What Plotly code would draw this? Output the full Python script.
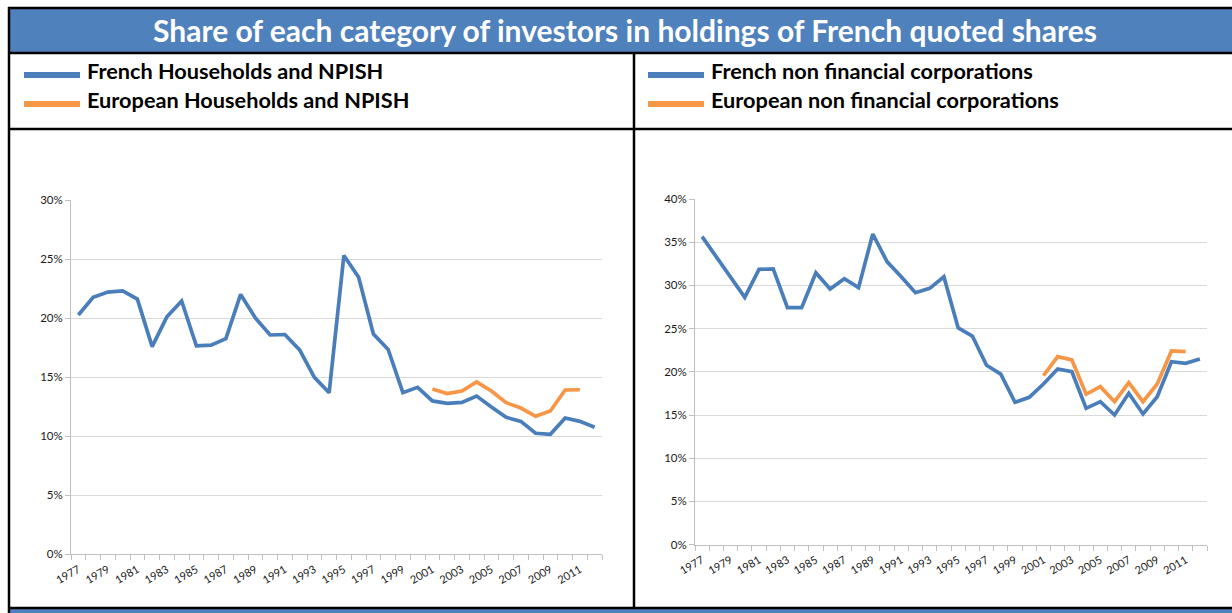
import plotly.graph_objects as go

years = list(range(1977, 2013))
years_eu = list(range(2001, 2012))

fr_households = [20.25, 21.75, 22.2, 22.3, 21.6, 17.57, 20.1, 21.44, 17.65, 17.7,
                 18.25, 22.0, 20.0, 18.56, 18.6, 17.3, 14.97, 13.67, 25.3, 23.45,
                 18.64, 17.34, 13.67, 14.12, 12.97, 12.77, 12.85, 13.39, 12.46, 11.58,
                 11.24, 10.23, 10.14, 11.53, 11.24, 10.74]
eu_households = [13.98, 13.59, 13.81, 14.58, 13.81, 12.82, 12.37, 11.67, 12.12, 13.9, 13.92]

fr_nfc = [35.64, 33.3, 31.0, 28.62, 31.86, 31.9, 27.42, 27.42, 31.47, 29.58,
          30.78, 29.74, 35.95, 32.75, 31.0, 29.16, 29.66, 31.0, 25.1, 24.14,
          20.75, 19.74, 16.47, 17.05, 18.59, 20.32, 20.01, 15.77, 16.54, 15.0,
          17.51, 15.12, 17.12, 21.17, 20.98, 21.48]
eu_nfc = [19.55, 21.75, 21.37, 17.4, 18.28, 16.54, 18.74, 16.54, 18.59, 22.41, 22.33]

title = "Share of each category of investors in holdings of French quoted shares"
legend_left = ["French Households and NPISH", "European Households and NPISH"]
legend_right = ["French non financial corporations", "European non financial corporations"]
year_labels = [str(y) for y in range(1977, 2012, 2)]

BLUE = "#4A7EBB"
ORANGE = "#F79646"
BAR = "#4F81BD"
W, H = 1232, 613

def px(x):
    return x / W

def py(y):
    return 1 - y / H

fig = go.Figure()
fig.add_trace(go.Scatter(x=years, y=[v / 100 for v in fr_households], mode="lines",
                         line=dict(color=BLUE, width=3.7), xaxis="x", yaxis="y",
                         name=legend_left[0], showlegend=False))
fig.add_trace(go.Scatter(x=years_eu, y=[v / 100 for v in eu_households], mode="lines",
                         line=dict(color=ORANGE, width=3.7), xaxis="x", yaxis="y",
                         name=legend_left[1], showlegend=False))
fig.add_trace(go.Scatter(x=years, y=[v / 100 for v in fr_nfc], mode="lines",
                         line=dict(color=BLUE, width=3.7), xaxis="x2", yaxis="y2",
                         name=legend_right[0], showlegend=False))
fig.add_trace(go.Scatter(x=years_eu, y=[v / 100 for v in eu_nfc], mode="lines",
                         line=dict(color=ORANGE, width=3.7), xaxis="x2", yaxis="y2",
                         name=legend_right[1], showlegend=False))

xtickfont = dict(family="Lato, Open Sans, sans-serif", size=11, color="#1a1a1a")
ytickfont = dict(family="Lato, Open Sans, sans-serif", size=11.5, color="#1a1a1a")
GRID = "#D9D9D9"
AXIS = "#BFBFBF"

def xaxis(domain, anchor):
    return dict(domain=domain, anchor=anchor, range=[1976.5, 2012.5], automargin=False,
                tickmode="array", tickvals=list(range(1977, 2012, 2)), ticktext=year_labels,
                tickangle=-30, tickfont=xtickfont, ticks="outside", ticklen=4,
                tickcolor="rgba(0,0,0,0)",
                showgrid=False, zeroline=False, showline=True, linecolor=AXIS, linewidth=1,
                minor=dict(ticks="outside", ticklen=5, tickcolor=AXIS, dtick=1, tick0=1976.5,
                           showgrid=False),
                fixedrange=True)

def yaxis(domain, anchor, top):
    return dict(domain=domain, anchor=anchor, range=[0, top], dtick=0.05, tickformat=".0%",
                automargin=False,
                tickfont=ytickfont, showgrid=True, gridcolor=GRID, gridwidth=1,
                zeroline=False, showline=True, linecolor=AXIS, linewidth=1,
                ticks="outside", ticklen=5, tickcolor=AXIS, fixedrange=True)

fig.update_layout(
    width=W, height=H, margin=dict(l=0, r=0, t=0, b=0, pad=0, autoexpand=False),
    paper_bgcolor="white", plot_bgcolor="white", showlegend=False,
    xaxis=xaxis([px(71), px(602)], "y"),
    yaxis=yaxis([py(554), py(200)], "x", 0.30),
    xaxis2=xaxis([px(695), px(1207)], "y2"),
    yaxis2=yaxis([py(544.6), py(199)], "x2", 0.40),
)

shapes = []
shapes.append(dict(type="rect", xref="paper", yref="paper", x0=px(9), x1=1.01, y0=py(53), y1=py(8),
                   fillcolor=BAR, line=dict(width=0), layer="below"))
shapes.append(dict(type="rect", xref="paper", yref="paper", x0=px(9), x1=1.01, y0=-0.01, y1=py(608),
                   fillcolor=BAR, line=dict(width=0), layer="below"))
for yy in [8, 53, 129, 608]:
    shapes.append(dict(type="line", xref="paper", yref="paper", x0=px(8), x1=1.01, y0=py(yy), y1=py(yy),
                       line=dict(color="black", width=2.5)))
shapes.append(dict(type="line", xref="paper", yref="paper", x0=px(9), x1=px(9), y0=py(7), y1=py(613),
                   line=dict(color="black", width=2.5)))
shapes.append(dict(type="line", xref="paper", yref="paper", x0=px(634), x1=px(634), y0=py(53), y1=py(609),
                   line=dict(color="black", width=2.5)))
for (x0, x1) in [(24, 80), (648, 704)]:
    shapes.append(dict(type="line", xref="paper", yref="paper", x0=px(x0), x1=px(x1), y0=py(75), y1=py(75),
                       line=dict(color=BLUE, width=6)))
    shapes.append(dict(type="line", xref="paper", yref="paper", x0=px(x0), x1=px(x1), y0=py(104), y1=py(104),
                       line=dict(color=ORANGE, width=6)))
fig.update_layout(shapes=shapes)

legfont = dict(family="Lato, Open Sans, sans-serif", size=21.7, color="black", weight="bold")
annotations = [
    dict(text=title, xref="paper", yref="paper", x=px(624.5), y=py(30), showarrow=False,
         xanchor="center", yanchor="middle",
         font=dict(family="Lato, Open Sans, sans-serif", size=30, color="white", weight="bold")),
]
for txt, yy in zip(legend_left, [70.5, 99.5]):
    annotations.append(dict(text=txt, xref="paper", yref="paper", x=px(85), y=py(yy), showarrow=False,
                            xanchor="left", yanchor="middle", font=legfont))
for txt, yy in zip(legend_right, [70.5, 99.5]):
    annotations.append(dict(text=txt, xref="paper", yref="paper", x=px(709), y=py(yy), showarrow=False,
                            xanchor="left", yanchor="middle", font=legfont))
fig.update_layout(annotations=annotations)

fig.write_html("out.html", config={"displayModeBar": False},
               post_script="document.body.style.margin='0px';document.body.style.overflow='hidden';")
